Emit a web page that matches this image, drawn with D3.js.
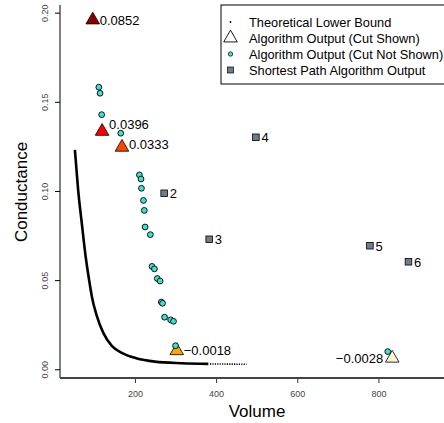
<!DOCTYPE html>
<html lang="en">
<head>
<meta charset="UTF-8">
<title>Conductance vs Volume</title>
<script src="https://cdnjs.cloudflare.com/ajax/libs/d3/7.8.5/d3.min.js"></script>
<style>
  body { margin: 0; background: #fff; }
  svg { display: block; font-family: "Liberation Sans", Arial, sans-serif; }
  .tick-label { font-size: 9px; fill: #444; }
  .pt-label { font-size: 13px; fill: #000; }
  .leg-text { font-size: 12.8px; fill: #000; }
</style>
</head>
<body>
<svg width="444" height="423"></svg>
<script>
  // theoretical lower bound
  var boundVol  = [52, 54, 60, 69, 78, 87, 94, 106, 122, 143, 170, 203, 249, 315, 381]
  var boundCond = [0.123, 0.1174, 0.1006, 0.0819, 0.0641, 0.0501, 0.0405, 0.0299, 0.0204, 0.0131, 0.0089, 0.0062, 0.0043, 0.0034, 0.0030]
  // sparse tail of the bound, drawn as dots
  var tailVol  = [385, 475]
  var tailCond = [0.0030, 0.0028]

  // algorithm output, cut not shown
  var cutVol  = [111, 114, 118, 165, 211, 215, 216, 221, 223, 225, 238, 242, 248, 255, 262, 265, 268, 273, 288, 295, 300, 823]
  var cutCond = [0.1582, 0.1548, 0.1428, 0.1324, 0.1090, 0.1067, 0.1015, 0.0947, 0.0891, 0.0798, 0.0755, 0.0577, 0.0563, 0.0509, 0.0495, 0.0377, 0.0370, 0.0292, 0.0277, 0.0269, 0.0132, 0.0099]

  // algorithm output, cut shown
  var shownVol    = [96, 119, 168, 303, 834]
  var shownCond   = [0.1959, 0.1334, 0.1245, 0.0104, 0.0062]
  var shownLabels = ["0.0852", "0.0396", "0.0333", "\u22120.0018", "\u22120.0028"]
  var shownColors = ["#8b0000", "#ff0000", "#ff4500", "#ffa500", "#fbf6d3"]

  // shortest path algorithm output
  var spVol    = [272, 383, 498, 779, 874]
  var spCond   = [0.0987, 0.0729, 0.1301, 0.0693, 0.0603]
  var spLabels = ["2", "3", "4", "5", "6"]

  var xTicks = [200, 400, 600, 800]
  var yTicks = [0, 0.05, 0.10, 0.15, 0.20]

  var svg = d3.select("svg")

  var x = d3.scaleLinear().domain([15.3, 961.6]).range([60, 444])
  var y = d3.scaleLinear().domain([-0.0049, 0.2043]).range([378, 5])

  // y axis
  var yAxis = d3.axisLeft(y).tickValues(yTicks).tickSize(5).tickFormat(d3.format(".2f"))
  var gy = svg.append("g").attr("transform", "translate(60,0)").call(yAxis)
  gy.select(".domain").remove()
  gy.selectAll("line").attr("stroke", "#000")
  gy.selectAll("text")
    .attr("class", "tick-label")
    .attr("transform", "rotate(-90)")
    .attr("x", 0).attr("y", -12).attr("dy", 0)
    .attr("text-anchor", "middle")

  // x axis
  var xAxis = d3.axisBottom(x).tickValues(xTicks).tickSize(5)
  var gx = svg.append("g").attr("transform", "translate(0,378)").call(xAxis)
  gx.select(".domain").remove()
  gx.selectAll("line").attr("stroke", "#333")
  gx.selectAll("text").attr("class", "tick-label").attr("y", 19).attr("dy", 0)

  // box lines (left and bottom)
  svg.append("line").attr("x1", 60).attr("x2", 60).attr("y1", 5).attr("y2", 378)
    .attr("stroke", "#000")
  svg.append("line").attr("x1", 60).attr("x2", 444).attr("y1", 378).attr("y2", 378)
    .attr("stroke", "#444").attr("stroke-width", 2)

  // axis titles
  svg.append("text").attr("x", 257).attr("y", 417).attr("text-anchor", "middle")
    .style("font-size", "17px").text("Volume")
  svg.append("text").attr("transform", "translate(27,192) rotate(-90)").attr("text-anchor", "middle")
    .style("font-size", "17px").text("Conductance")

  // lower bound
  var bound = boundVol.map((v, i) => [v, boundCond[i]])
  var line = d3.line().x(d => x(d[0])).y(d => y(d[1])).curve(d3.curveMonotoneX)
  svg.append("path").attr("d", line(bound))
    .attr("fill", "none").attr("stroke", "#000").attr("stroke-width", 2.6)
  svg.append("path").attr("d", line(tailVol.map((v, i) => [v, tailCond[i]])))
    .attr("fill", "none").attr("stroke", "#000").attr("stroke-width", 1.6)
    .attr("stroke-dasharray", "1.2,1.2")

  // shortest path squares
  svg.selectAll(".sp").data(spVol).enter().append("rect")
    .attr("class", "sp")
    .attr("x", d => x(d) - 3.3).attr("y", (d, i) => y(spCond[i]) - 3.3)
    .attr("width", 6.6).attr("height", 6.6)
    .attr("fill", "#6f7c8c").attr("stroke", "#000").attr("stroke-width", 0.8)
  svg.selectAll(".sp-label").data(spLabels).enter().append("text")
    .attr("class", "pt-label")
    .attr("x", (d, i) => x(spVol[i]) + 5.5).attr("y", (d, i) => y(spCond[i]) + 4.8)
    .text(d => d)

  // triangles (cut shown)
  var tri = d3.symbol().type(d3.symbolTriangle).size(80)
  svg.selectAll(".tri").data(shownVol).enter().append("path")
    .attr("class", "tri")
    .attr("d", tri)
    .attr("transform", (d, i) => "translate(" + x(d) + "," + y(shownCond[i]) + ")")
    .attr("fill", (d, i) => shownColors[i]).attr("stroke", "#000").attr("stroke-width", 0.8)

  // circles (cut not shown)
  svg.selectAll(".cut").data(cutVol).enter().append("circle")
    .attr("class", "cut")
    .attr("cx", d => x(d)).attr("cy", (d, i) => y(cutCond[i]))
    .attr("r", 2.9)
    .attr("fill", "#40e0d0").attr("stroke", "#000").attr("stroke-width", 0.9)

  // triangle labels
  var labelDy = [0, -7.5, -3, 0, 0]
  svg.selectAll(".tri-label").data(shownLabels).enter().append("text")
    .attr("class", "pt-label")
    .attr("x", (d, i) => i === 4 ? x(shownVol[i]) - 9 : x(shownVol[i]) + 7)
    .attr("y", (d, i) => y(shownCond[i]) + labelDy[i] + 4.6)
    .attr("text-anchor", (d, i) => i === 4 ? "end" : "start")
    .text(d => d)

  // legend
  var leg = svg.append("g")
  leg.append("rect").attr("x", 221).attr("y", 5).attr("width", 240).attr("height", 79)
    .attr("fill", "#fff").attr("stroke", "#000").attr("stroke-width", 1)
  var legItems = ["Theoretical Lower Bound", "Algorithm Output (Cut Shown)",
                  "Algorithm Output (Cut Not Shown)", "Shortest Path Algorithm Output"]
  leg.selectAll(".leg-text").data(legItems).enter().append("text")
    .attr("class", "leg-text")
    .attr("x", 249).attr("y", (d, i) => 26.5 + i * 16)
    .text(d => d)
  leg.append("circle").attr("cx", 230.5).attr("cy", 22).attr("r", 0.9).attr("fill", "#000")
  leg.append("path").attr("d", d3.symbol().type(d3.symbolTriangle).size(80)())
    .attr("transform", "translate(230.5,38)")
    .attr("fill", "none").attr("stroke", "#000").attr("stroke-width", 0.9)
  leg.append("circle").attr("cx", 230.5).attr("cy", 54).attr("r", 2.2)
    .attr("fill", "#40e0d0").attr("stroke", "#000").attr("stroke-width", 0.7)
  leg.append("rect").attr("x", 227.5).attr("y", 67).attr("width", 6).attr("height", 6)
    .attr("fill", "#6f7c8c").attr("stroke", "#000").attr("stroke-width", 0.7)
</script>
</body>
</html>
